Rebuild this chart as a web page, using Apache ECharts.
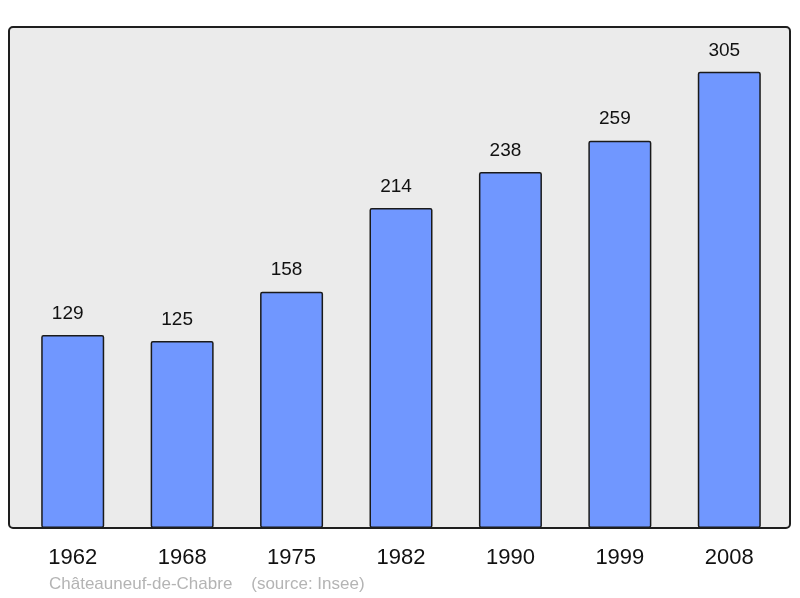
<!DOCTYPE html>
<html>
<head>
<meta charset="utf-8">
<script src="https://cdn.jsdelivr.net/npm/echarts@6/dist/echarts.min.js"></script>
<style>
  html, body { margin: 0; padding: 0; background: #fff; }
  #chart { width: 800px; height: 598px; }
</style>
</head>
<body>
<div id="chart"></div>
<script>
// population par recensement
var years = ["1962", "1968", "1975", "1982", "1990", "1999", "2008"];
var population = [129, 125, 158, 214, 238, 259, 305];
var sourceText = "Châteauneuf-de-Chabre    (source: Insee)";

var chartDom = document.getElementById("chart");
var myChart = echarts.init(chartDom);

var option = {
  backgroundColor: "#ffffff",
  animation: false,
  grid: {
    left: 18,
    right: 16,
    top: 27,
    bottom: 70,
  },
  graphic: [
    // fond gris du cadre
    {
      type: "rect",
      z: -10,
      shape: { x: 9, y: 27, width: 781, height: 501, r: 4 },
      style: { fill: "#ebebeb", stroke: null },
    },
    // bordure au-dessus des barres
    {
      type: "rect",
      z: 100,
      shape: { x: 9, y: 27, width: 781, height: 501, r: 4 },
      style: { fill: null, stroke: "#1e1e1e", lineWidth: 2 },
    },
    {
      type: "text",
      left: 49,
      top: 576,
      style: {
        text: sourceText,
        fill: "#b4b4b4",
        font: '17px "Liberation Sans", Arial, sans-serif',
      },
    },
  ],
  xAxis: {
    type: "category",
    data: years,
    axisLine: { show: false },
    axisTick: { show: false },
    axisLabel: {
      margin: 19,
      color: "#111",
      fontSize: 22,
      fontFamily: '"Liberation Sans", Arial, sans-serif',
    },
  },
  yAxis: {
    type: "value",
    min: 0,
    max: 335,
    show: false,
    splitLine: { show: false },
  },
  series: [
    {
      type: "bar",
      data: population,
      barWidth: 63,
      itemStyle: {
        color: "#7097ff",
        borderColor: "#1a1a1a",
        borderWidth: 1.5,
        borderRadius: 1.5,
      },
      label: {
        show: true,
        position: "top",
        distance: 12,
        offset: [-5, 0],
        color: "#111",
        fontSize: 19,
        fontFamily: '"Liberation Sans", Arial, sans-serif',
      },
    },
  ],
};

option && myChart.setOption(option);
</script>
</body>
</html>
